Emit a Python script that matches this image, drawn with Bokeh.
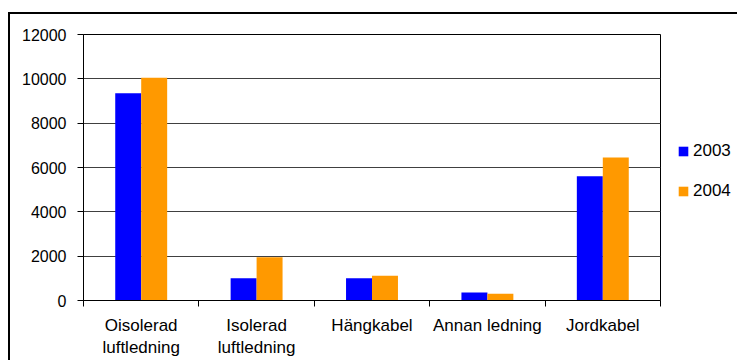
from bokeh.plotting import figure
from bokeh.models import ColumnDataSource, FixedTicker, Legend, LegendItem
from bokeh.embed import file_html
from bokeh.resources import INLINE

categories = ["Oisolerad\nluftledning", "Isolerad\nluftledning", "Hängkabel", "Annan ledning", "Jordkabel"]
series_names = ["2003", "2004"]
values_2003 = [9350, 1000, 1000, 360, 5600]
values_2004 = [10050, 1950, 1120, 310, 6450]
y_ticks = [0, 2000, 4000, 6000, 8000, 10000, 12000]
colors = ["#0000FF", "#FF9900"]

FONT = "Liberation Sans"

centers = [i + 0.5 for i in range(len(categories))]
bar_w = 0.225

src03 = ColumnDataSource(dict(x=[c - bar_w / 2 for c in centers], top=values_2003))
src04 = ColumnDataSource(dict(x=[c + bar_w / 2 for c in centers], top=values_2004))

p = figure(
    output_backend="svg", toolbar_location=None,
    frame_width=577, frame_height=266,
    min_border_left=73, min_border_right=75, min_border_top=20, min_border_bottom=40,
    x_range=(0, len(categories)), y_range=(0, 12000),
    background_fill_color="white", border_fill_color="white",
)
p.styles = {"border-top": "2px solid black", "border-left": "2px solid black",
            "margin-top": "12px", "margin-left": "8px", "margin-bottom": "-30px"}

r03 = p.vbar(x="x", top="top", width=bar_w, source=src03, fill_color=colors[0], line_color=None)
r04 = p.vbar(x="x", top="top", width=bar_w, source=src04, fill_color=colors[1], line_color=None)

p.outline_line_color = "black"
p.outline_line_width = 1

# x axis
xa = p.xaxis[0]
xa.ticker = FixedTicker(ticks=centers, minor_ticks=list(range(len(categories) + 1)))
xa.major_label_overrides = {c: lab for c, lab in zip(centers, categories)}
xa.major_tick_line_color = None
xa.major_tick_out = 0
xa.major_tick_in = 0
xa.minor_tick_out = 6
xa.minor_tick_in = 0
xa.minor_tick_line_color = "black"
xa.axis_line_color = "black"
xa.major_label_text_font = FONT
xa.major_label_text_font_size = "17px"
xa.major_label_text_color = "black"
xa.major_label_standoff = 9
xa.major_label_text_line_height = 1.2

# y axis
ya = p.yaxis[0]
ya.ticker = FixedTicker(ticks=y_ticks)
ya.major_tick_out = 6
ya.major_tick_in = 0
ya.minor_tick_line_color = None
ya.axis_line_color = "black"
ya.major_tick_line_color = "black"
ya.major_label_text_font = FONT
ya.major_label_text_font_size = "16px"
ya.major_label_text_color = "black"
ya.major_label_standoff = 11

p.xgrid.grid_line_color = None
p.ygrid.ticker = FixedTicker(ticks=y_ticks)
p.ygrid.grid_line_color = "#404040"
p.ygrid.grid_line_width = 1

legend = Legend(
    items=[LegendItem(label=series_names[0], renderers=[r03]),
           LegendItem(label=series_names[1], renderers=[r04])],
    location=(17, 99),
    orientation="vertical",
    glyph_width=12, glyph_height=12,
    label_standoff=4, label_height=20, spacing=20,
    padding=0, margin=0,
    border_line_color=None, background_fill_alpha=0,
    label_text_font=FONT, label_text_font_size="17px", label_text_color="black",
)
p.add_layout(legend, "right")

open("out.html", "w").write(file_html(p, INLINE))
